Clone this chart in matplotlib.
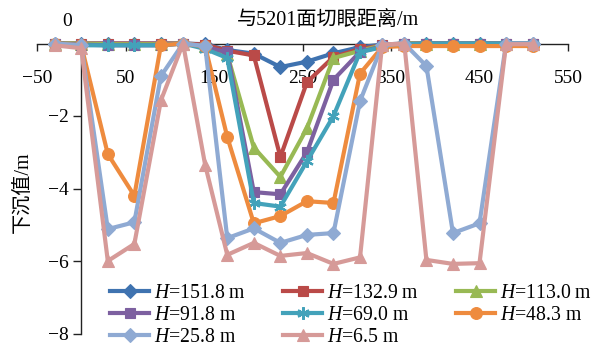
import matplotlib
matplotlib.use("Agg")
import matplotlib.pyplot as plt

plt.rcParams['font.family'] = ['Liberation Serif', 'Noto Sans CJK SC', 'DejaVu Sans']
plt.rcParams['mathtext.fontset'] = 'custom'
plt.rcParams['mathtext.it'] = 'Liberation Serif:italic'
plt.rcParams['mathtext.rm'] = 'Liberation Serif'

# distance from the 5201 open-off cut (m)
distance = [-30, 0, 30, 60, 90, 115, 140, 165, 195, 225,
            255, 285, 315, 340, 365, 390, 420, 450, 480, 510]

# subsidence (m) at each monitoring level H
h151_8 = [0, 0, 0, 0, 0, 0, -0.02, -0.18, -0.28, -0.65,
          -0.5, -0.27, -0.1, -0.03, 0, 0, 0, 0, 0, 0]
h132_9 = [0, 0, 0, 0, 0, 0, -0.03, -0.2, -0.33, -3.13,
          -1.07, -0.37, -0.15, -0.05, 0, 0, 0, 0, 0, 0]
h113_0 = [0, 0, -0.02, -0.02, -0.02, 0, -0.08, -0.3, -2.87, -3.68,
          -2.34, -0.4, -0.2, -0.05, 0, 0, 0, 0, 0, 0]
h91_8 = [0, -0.03, -0.05, -0.05, -0.05, 0, -0.1, -0.24, -4.1, -4.16,
         -3.0, -1.0, -0.23, -0.08, -0.02, 0, 0, 0, 0, 0]
h69_0 = [0, -0.05, -0.05, -0.05, -0.05, 0, -0.15, -0.4, -4.4, -4.5,
         -3.25, -2.0, -0.24, -0.1, -0.02, 0, 0, 0, 0, 0]
h48_3 = [0, -0.05, -3.05, -4.2, -0.05, 0, -0.08, -2.58, -4.96, -4.76,
         -4.35, -4.4, -0.83, -0.1, -0.07, -0.07, -0.07, -0.07, -0.07, -0.07]
h25_8 = [0, -0.05, -5.12, -4.93, -0.9, 0, -0.07, -5.37, -5.1, -5.5,
         -5.28, -5.23, -1.59, -0.05, 0, -0.62, -5.23, -4.96, 0, 0]
h6_5 = [-0.05, -0.13, -6.0, -5.53, -1.57, 0, -3.35, -5.83, -5.5, -5.86,
        -5.78, -6.08, -5.9, -0.03, 0, -5.97, -6.08, -6.06, -0.02, -0.02]

series_labels = ['151.8', '132.9', '113.0', '91.8', '69.0', '48.3', '25.8', '6.5']
series_values = [h151_8, h132_9, h113_0, h91_8, h69_0, h48_3, h25_8, h6_5]

x_ticks = [-50, 50, 150, 250, 350, 450, 550]
y_ticks = [-8, -6, -4, -2]
y_tick_labels = ['\u22128', '\u22126', '\u22124', '\u22122']

colors = ['#3F73B0', '#BA4A48', '#98B954', '#7D60A0',
          '#43A2BA', '#EE8B3E', '#8FAAD3', '#D69A98']
markers = ['D', 's', '^', 's', (6, 2, 0), 'o', 'D', '^']
msizes = [7.5, 7.5, 8.5, 7.5, 9, 8.5, 7.5, 8.5]

fig = plt.figure(figsize=(5.93, 3.5), dpi=100)
ax = fig.add_axes([37 / 593, 1 - 333.5 / 350, 531 / 593, 290 / 350])

handles = []
for vals, lab, c, m, ms in zip(series_values, series_labels, colors, markers, msizes):
    mew = 1.6 if m == (6, 2, 0) else 0.8
    ln, = ax.plot(distance, vals, color=c, lw=3.0, marker=m, ms=ms,
                  markerfacecolor=c, markeredgecolor=c, markeredgewidth=mew,
                  clip_on=False, label=r'$H$=' + lab + ' m')
    handles.append(ln)

ax.set_xlim(-50, 550)
ax.set_ylim(-8, 0)

for s in ('top', 'right'):
    ax.spines[s].set_visible(False)
ax.spines['bottom'].set_position(('data', 0))
ax.spines['left'].set_position(('data', 0))
for s in ('bottom', 'left'):
    ax.spines[s].set_color('#222222')
    ax.spines[s].set_linewidth(1.0)
    ax.spines[s].set_zorder(0.5)

ax.set_xticks(x_ticks)
ax.set_xticklabels([str(v).replace('-', '\u2212') for v in x_ticks])
ax.set_yticks(y_ticks)
ax.set_yticklabels(y_tick_labels)
ax.tick_params(axis='x', direction='out', length=5, width=1.0, pad=14,
               labelsize=14, colors='#222222', labelcolor='black')
ax.tick_params(axis='y', direction='out', length=6, width=1.0, pad=3,
               labelsize=14, colors='#222222', labelcolor='black')

fig.text(67 / 593, 1 - 22 / 350, '0', fontsize=14, ha='center', va='center')
fig.text(328 / 593, 1 - 20 / 350, '与5201面切眼距离/m', fontsize=14.5,
         ha='center', va='center')
fig.text(23 / 593, 1 - 192 / 350, '下沉值/m', fontsize=14.5, rotation=90,
         ha='center', va='center')

# legend filled row by row: three entries per row
ncol = 3
order = [i for c in range(ncol) for i in range(c, len(handles), ncol)]
leg = fig.legend(handles=[handles[i] for i in order], ncol=ncol, loc='upper left',
                 bbox_to_anchor=(110 / 593, 1 - 284 / 350), frameon=False,
                 fontsize=14.2, handlelength=2.0, handletextpad=0.25,
                 columnspacing=1.85, labelspacing=0.15, borderpad=0,
                 borderaxespad=0)

fig.savefig('out.png', dpi=100)
